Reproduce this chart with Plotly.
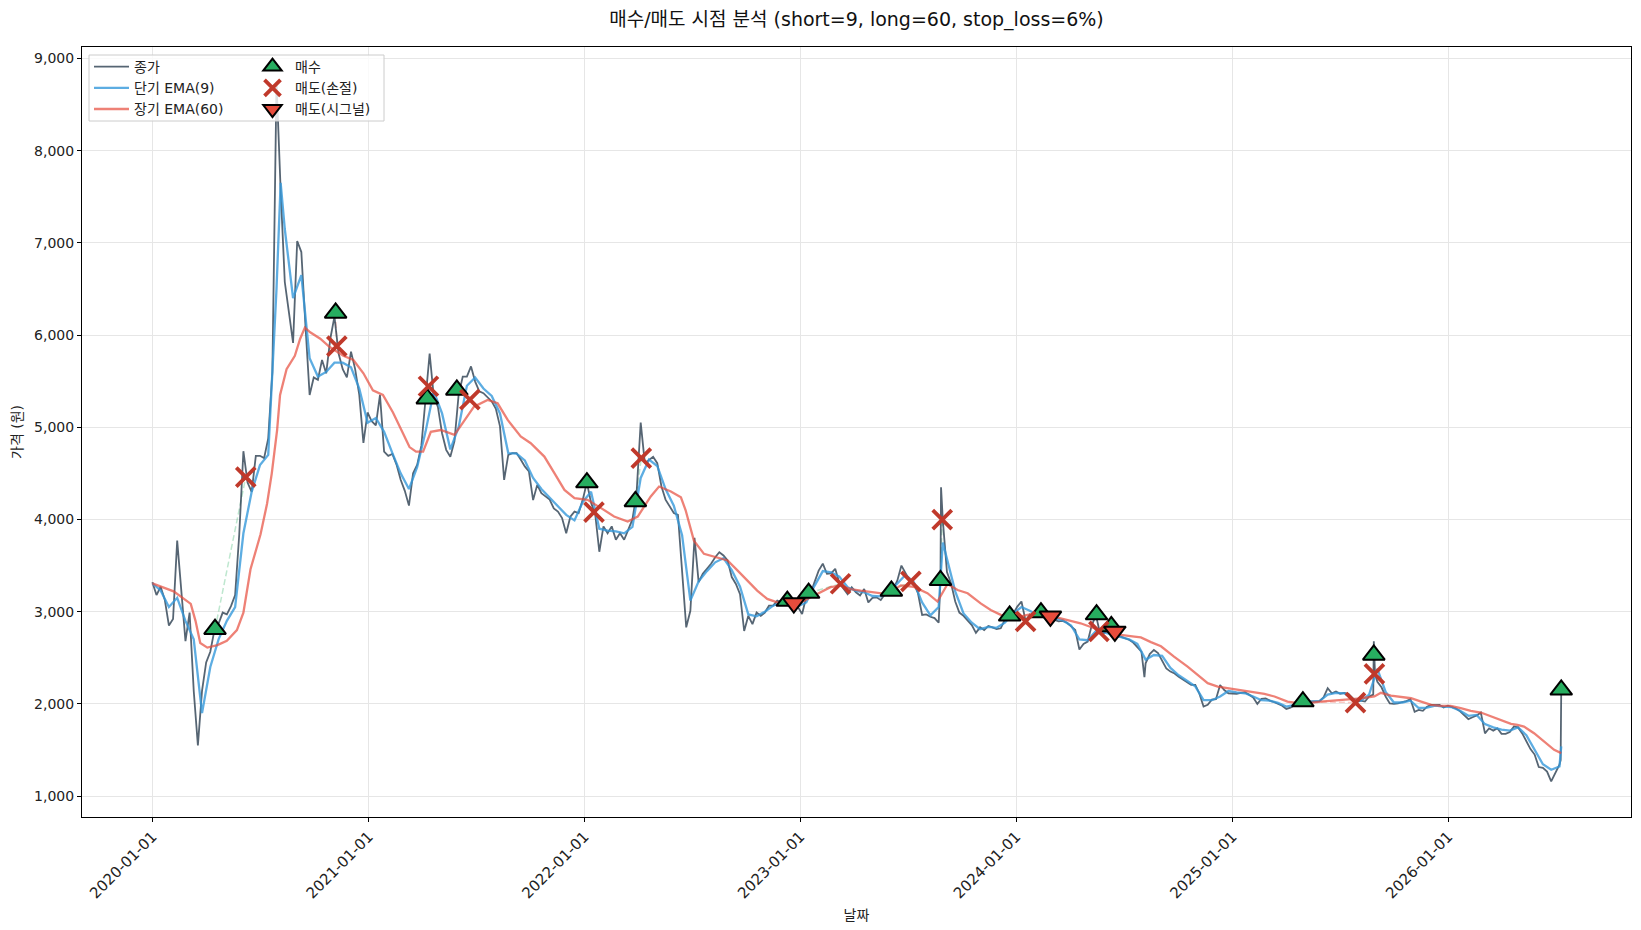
import pandas as pd
import plotly.graph_objects as go

START = pd.Timestamp("2020-01-01")

# ---- closing price, one reading per week starting 2020-01-01 ----
close_weekly = [
    3320, 3180, 3270, 3130, 2850, 2920, 3770, 3230, 2680, 2990,
    2140, 1550, 2140, 2450, 2565, 2800, 2870, 2990, 2970, 3060,
    3180, 3840, 4740, 4400, 4300, 4690, 4690, 4665, 4880, 5600,
    8745, 7570, 6575, 6245, 5915, 7020, 6900, 6100, 5350, 5540,
    5515, 5730, 5585, 5960, 6200, 5800, 5630, 5540, 5820, 5630,
    5350, 4830, 5160, 5065, 5020, 5350, 4735, 4690, 4710, 4595,
    4430, 4310, 4150, 4500, 4595, 4800, 5300, 5800, 5330, 5220,
    4935, 4755, 4680, 4850, 5350, 5550, 5550, 5660, 5495, 5390,
    5370, 5330, 5280, 5200, 5010, 4430, 4700, 4720, 4720, 4650,
    4575, 4520, 4210, 4375, 4285, 4250, 4215, 4120, 4085, 4015,
    3850, 4030, 4085, 4070, 4215, 4400, 4180, 4060, 3650, 3925,
    3850, 3925, 3780, 3850, 3780, 3890, 4000, 4285, 5050, 4610,
    4650, 4680, 4610, 4360, 4215, 4140, 4070, 4050, 3480, 2830,
    3010, 3800, 3320, 3410, 3465, 3520, 3590, 3645, 3610, 3555,
    3375, 3300, 3190, 2790, 2955, 2865, 2990, 2955, 2990, 3065,
    3065, 3120, 3100, 3120, 3100, 3090, 3050, 2975, 3160, 3190,
    3320, 3445, 3520, 3410, 3415, 3465, 3310, 3245, 3190, 3265,
    3210, 3175, 3245, 3100, 3150, 3155, 3125, 3190, 3190, 3245,
    3335, 3500, 3410, 3335, 3300, 3200, 2965, 2970, 2945, 2930,
    2880, 3990, 3430, 3305, 3110, 2990, 2955, 2910, 2855, 2770,
    2830, 2800, 2845, 2830, 2810, 2820, 2915, 2955, 2975, 3055,
    3110, 2900, 2970, 2945, 2965, 2985, 2935, 2950, 2910, 2895,
    2900, 2880, 2840, 2800, 2590, 2650, 2675, 2855, 2960, 2765,
    2770, 2800, 2770, 2735, 2730, 2710, 2695, 2665, 2620, 2565,
    2440, 2540, 2585, 2550, 2475, 2385, 2350, 2330, 2295, 2265,
    2230, 2205, 2205, 2110, 1970, 1990, 2045, 2050, 2205, 2150,
    2115, 2115, 2110, 2120, 2125, 2100, 2070, 2000, 2055, 2060,
    2035, 2020, 2000, 1980, 1945, 1960, 1985, 2005, 2025, 2025,
    2025, 2025, 2030, 2070, 2170, 2115, 2135, 2110, 2120, 2110,
    2060, 2020, 2035, 2025, 2080, 2100, 2240, 2180, 2080, 2005,
    2000, 2005, 2020, 2030, 2050, 1915, 1935, 1925, 1970, 1990,
    1990, 1990, 1960, 1980, 1965, 1950, 1920, 1880, 1835, 1855,
    1875, 1905, 1680, 1735, 1710, 1735, 1675, 1675, 1695, 1755,
    1745, 1680, 1590, 1510, 1450, 1315, 1305, 1265, 1160, 1250,
    1340,
]
# extra daily readings (days after 2020-01-01) at sharp spikes
close_extra_days = [1333, 1334, 1678, 2066, 2068, 2382, 2383]
close_extra_vals = [3340, 4350, 2290, 2680, 2325, 1390, 2150]

# ---- short EMA(9), one reading every two weeks ----
ema_short_biweekly = [
    3307, 3230, 3050, 3150, 2900, 2700, 1900, 2400, 2700, 2900,
    3050, 3850, 4300, 4590, 4700, 6500, 7150, 6400, 6650, 5750,
    5550, 5600, 5700, 5700, 5650, 5420, 5050, 5100, 4950, 4720,
    4500, 4330, 4570, 4950, 5390, 5150, 4760, 5000, 5450, 5540,
    5420, 5340, 5150, 4720, 4715, 4640, 4450, 4330, 4240, 4140,
    4050, 3990, 4190, 4300, 3900, 3880, 3870, 3850, 3920, 4450,
    4650, 4580, 4330, 4150, 3830, 3120, 3330, 3440, 3535, 3580,
    3450, 3270, 2970, 2950, 3000, 3065, 3100, 3100, 3060, 3100,
    3280, 3440, 3425, 3380, 3265, 3225, 3210, 3170, 3165, 3210,
    3300, 3400, 3320, 3100, 2960, 3050, 3580, 3220, 2980, 2880,
    2810, 2835, 2825, 2880, 2980, 3050, 3010, 2960, 2950, 2930,
    2905, 2850, 2700, 2690, 2790, 2775, 2750, 2730, 2700, 2650,
    2480, 2530, 2520, 2390, 2310, 2250, 2190, 2040, 2040, 2080,
    2140, 2125, 2115, 2080, 2040, 2035, 2010, 1970, 1990, 2020,
    2025, 2030, 2100, 2120, 2115, 2055, 2035, 2100, 2380, 2130,
    2015, 2015, 2035, 1955, 1960, 1980, 1970, 1965, 1925, 1870,
    1880, 1780, 1745, 1720, 1710, 1745, 1660, 1500, 1345, 1285,
    1320,
]
ema_short_extra_days = [217, 1337, 2383]
ema_short_extra_vals = [7650, 3750, 1540]

# ---- long EMA(60) readings (days after 2020-01-01, value) ----
ema_long_days = [
    0, 36, 65, 73, 81, 93, 110, 126, 143, 154, 166, 183, 194, 202, 211, 216,
    227, 241, 250, 258, 267, 284, 300, 323, 340, 357, 373, 390, 407, 424,
    435, 446, 458, 471, 488, 511, 544, 567, 584, 601, 623, 640, 663, 680,
    697, 714, 736, 759, 781, 804, 821, 843, 857, 877, 894, 902, 916, 933,
    956, 973, 990, 1006, 1023, 1040, 1057, 1074, 1091, 1108, 1125, 1147,
    1164, 1181, 1198, 1221, 1243, 1266, 1288, 1311, 1328, 1345, 1362, 1379,
    1401, 1418, 1435, 1458, 1480, 1503, 1525, 1548, 1570, 1593, 1616, 1638,
    1661, 1672, 1689, 1706, 1728, 1751, 1768, 1785, 1802, 1819, 1841, 1858,
    1881, 1898, 1920, 1937, 1954, 1976, 1999, 2022, 2044, 2067, 2078, 2095,
    2112, 2129, 2146, 2163, 2179, 2196, 2213, 2230, 2247, 2264, 2281, 2298,
    2309, 2320, 2337, 2354, 2371, 2383,
]
ema_long_vals = [
    3307, 3220, 3085, 2900, 2660, 2610, 2637, 2685, 2800, 2990, 3460, 3840,
    4170, 4500, 4970, 5350, 5630, 5775, 5960, 6080, 6030, 5960, 5870, 5775,
    5730, 5585, 5400, 5350, 5160, 4925, 4785, 4735, 4735, 4950, 4970, 4917,
    5224, 5296, 5260, 5080, 4900, 4827, 4682, 4502, 4320, 4231, 4213, 4123,
    4032, 3978, 4032, 4250, 4357, 4303, 4240, 4100, 3770, 3627, 3590, 3555,
    3445, 3337, 3228, 3138, 3100, 3083, 3083, 3138, 3190, 3265, 3283, 3245,
    3228, 3210, 3190, 3285, 3268, 3200, 3110, 3300, 3235, 3200, 3090, 3018,
    2965, 2928, 2964, 2982, 2946, 2910, 2874, 2820, 2783, 2747, 2729, 2720,
    2670, 2625, 2512, 2404, 2314, 2224, 2188, 2170, 2152, 2134, 2108, 2080,
    2025, 2007, 2007, 2025, 2036, 2050, 2060, 2080, 2120, 2090, 2075, 2061,
    2025, 1989, 1978, 1978, 1953, 1924, 1906, 1863, 1827, 1783, 1772, 1754,
    1682, 1592, 1502, 1466,
]

# ---- trade markers ----
buy_dates = ["2020-04-16", "2020-11-06", "2021-04-10", "2021-05-30", "2022-01-05",
             "2022-03-28", "2022-12-10", "2023-01-15", "2023-06-04", "2023-08-26",
             "2023-12-21", "2024-02-12", "2024-05-16", "2024-06-10", "2025-04-30",
             "2025-08-28", "2026-07-11"]
buy_prices = [2810, 6240, 5310, 5405, 4400, 4195, 3115, 3202, 3225, 3340,
              2955, 2990, 2968, 2840, 2025, 2531, 2152]

stop_dates = ["2020-06-07", "2020-11-08", "2021-04-12", "2021-06-21", "2022-01-17",
              "2022-04-07", "2023-03-10", "2023-07-07", "2023-08-29", "2024-01-17",
              "2024-05-20", "2025-07-28", "2025-08-29"]
stop_prices = [4460, 5880, 5445, 5300, 4080, 4665, 3303, 3328, 3998, 2895,
               2786, 2014, 2325]

signal_dates = ["2022-12-21", "2024-02-28", "2024-06-16"]
signal_prices = [3094, 2950, 2786]

year_ticks = ["2020-01-01", "2021-01-01", "2022-01-01", "2023-01-01",
              "2024-01-01", "2025-01-01", "2026-01-01"]
price_ticks = [1000, 2000, 3000, 4000, 5000, 6000, 7000, 8000, 9000]


def to_series(days, vals):
    df = pd.DataFrame({"d": days, "v": vals}).sort_values("d")
    return START + pd.to_timedelta(df["d"], unit="D"), df["v"]


cx, cy = to_series([7 * k for k in range(len(close_weekly))] + close_extra_days,
                   close_weekly + close_extra_vals)
sx, sy = to_series([14 * j for j in range(len(ema_short_biweekly))] + ema_short_extra_days,
                   ema_short_biweekly + ema_short_extra_vals)
lx, ly = to_series(ema_long_days, ema_long_vals)

FONT = "DejaVu Sans, Noto Sans CJK KR, sans-serif"
fig = go.Figure()

# trade connection lines (buy -> following sell)
sells = sorted(
    [(pd.Timestamp(d), p) for d, p in zip(stop_dates, stop_prices)]
    + [(pd.Timestamp(d), p) for d, p in zip(signal_dates, signal_prices)]
)
for (bd, bp), (sd, sp) in zip(zip(buy_dates, buy_prices), sells):
    col = "rgba(39,174,96,0.3)" if sp > bp else "rgba(231,76,60,0.3)"
    fig.add_trace(go.Scatter(x=[pd.Timestamp(bd), sd], y=[bp, sp], mode="lines",
                             line=dict(color=col, width=1.5, dash="6px,3px"),
                             showlegend=False, hoverinfo="skip"))

fig.add_trace(go.Scatter(x=cx, y=cy, mode="lines", name="종가",
                         line=dict(color="rgba(44,62,80,0.8)", width=1.8), legend="legend"))
fig.add_trace(go.Scatter(x=sx, y=sy, mode="lines", name="단기 EMA(9)",
                         line=dict(color="rgba(52,152,219,0.8)", width=2.3), legend="legend"))
fig.add_trace(go.Scatter(x=lx, y=ly, mode="lines", name="장기 EMA(60)",
                         line=dict(color="rgba(231,76,60,0.7)", width=2.3), legend="legend"))

fig.add_trace(go.Scatter(x=pd.to_datetime(buy_dates), y=buy_prices, mode="markers", name="매수",
                         marker=dict(symbol="triangle-up", size=19, color="#27ae60",
                                     line=dict(color="black", width=2)), legend="legend2"))
fig.add_trace(go.Scatter(x=pd.to_datetime(stop_dates), y=stop_prices, mode="markers", name="매도(손절)",
                         marker=dict(symbol="x-thin", size=19, color="#c0392b",
                                     line=dict(color="#c0392b", width=3.8)), legend="legend2"))
fig.add_trace(go.Scatter(x=pd.to_datetime(signal_dates), y=signal_prices, mode="markers", name="매도(시그널)",
                         marker=dict(symbol="triangle-down", size=19, color="#e74c3c",
                                     line=dict(color="black", width=2)), legend="legend2"))

L, R, T, B = 82, 1631, 47, 817
PW, PH = R - L, B - T


def px(x):
    return (x - L) / PW


def py(y):
    return 1 - (y - T) / PH


fig.add_shape(type="rect", xref="paper", yref="paper",
              x0=px(89), x1=px(384), y0=py(121), y1=py(55), layer="above",
              fillcolor="rgba(255,255,255,0.8)", line=dict(color="#cccccc", width=1))

fig.update_layout(
    width=1641, height=930,
    margin=dict(l=L, r=1641 - R, t=T, b=930 - B),
    paper_bgcolor="white", plot_bgcolor="white",
    font=dict(family=FONT, size=13, color="#222222"),
    title=dict(text="매수/매도 시점 분석 (short=9, long=60, stop_loss=6%)",
               x=(L + R) / 2 / 1641, xanchor="center", y=1 - 19 / 930, yanchor="middle",
               font=dict(size=19, color="#111111")),
    legend=dict(x=px(89), y=py(51), xanchor="left", yanchor="top", itemwidth=35,
                bgcolor="rgba(0,0,0,0)", font=dict(size=14), tracegroupgap=0),
    legend2=dict(x=px(250), y=py(51), xanchor="left", yanchor="top", itemwidth=35,
                 bgcolor="rgba(0,0,0,0)", font=dict(size=14), tracegroupgap=0),
    xaxis=dict(type="date", range=["2019-09-04", "2026-11-06"],
               tickvals=year_ticks, ticktext=year_ticks, tickangle=-45,
               showgrid=True, gridcolor="#e6e6e6", gridwidth=1,
               showline=True, mirror=True, linecolor="black", linewidth=1,
               ticks="outside", ticklen=4, tickcolor="black",
               tickfont=dict(size=15), zeroline=False,
               title=dict(text="날짜", font=dict(size=14), standoff=8)),
    yaxis=dict(range=[773, 9124], tickvals=price_ticks, tickformat=",d",
               showgrid=True, gridcolor="#e6e6e6", gridwidth=1,
               showline=True, mirror=True, linecolor="black", linewidth=1,
               ticks="outside", ticklen=4, tickcolor="black",
               tickfont=dict(size=14), zeroline=False,
               title=dict(text="가격 (원)", font=dict(size=14), standoff=8)),
)

fig.write_html("out.html")
